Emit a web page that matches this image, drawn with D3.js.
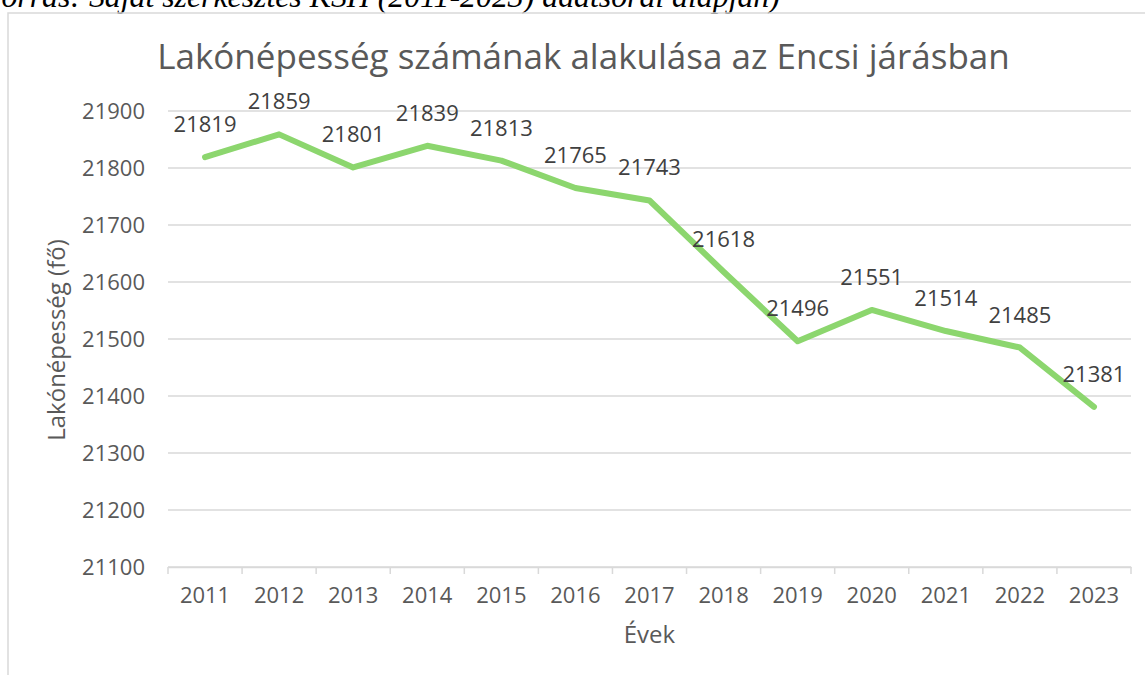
<!DOCTYPE html>
<html>
<head>
<meta charset="utf-8">
<script src="https://cdn.jsdelivr.net/npm/d3@7"></script>
<style>
  body { margin: 0; background: #fff; }
  svg { display: block; }
</style>
</head>
<body>
<div class="chart"></div>
<script>
const years = ["2011","2012","2013","2014","2015","2016","2017","2018","2019","2020","2021","2022","2023"]
const population = [21819, 21859, 21801, 21839, 21813, 21765, 21743, 21618, 21496, 21551, 21514, 21485, 21381]
const yTicks = [21100, 21200, 21300, 21400, 21500, 21600, 21700, 21800, 21900]

const W = 1145, H = 675
const margin = ({top: 111, right: 14, bottom: 108, left: 168})
const width = W - margin.left - margin.right
const height = H - margin.top - margin.bottom

const svg = d3.select(".chart").append("svg")
    .attr("width", W)
    .attr("height", H)

// caption above the chart, cut off at the top
svg.append("text")
    .attr("x", -18)
    .attr("y", 7)
    .attr("font-family", "Liberation Serif, Times New Roman, serif")
    .attr("font-style", "italic")
    .attr("font-size", 31.8)
    .attr("fill", "#000")
    .text("Forrás: Saját szerkesztés KSH (2011-2023) adatsorai alapján)")

// chart frame
svg.append("rect")
    .attr("x", 8).attr("y", 13)
    .attr("width", W + 20).attr("height", H + 20)
    .attr("fill", "none")
    .attr("stroke", "#d9d9d9")
    .attr("stroke-width", 1.5)

const g = svg.append("g")
    .attr("transform", `translate(${margin.left},${margin.top})`)

const x = d3.scaleBand()
    .domain(years)
    .range([0, width])

const y = d3.scaleLinear()
    .domain([21100, 21900])
    .range([height, 0])

const font = "'Open Sans', 'Noto Sans', sans-serif"

// gridlines
g.append("g")
    .selectAll("line")
    .data(yTicks)
    .join("line")
        .attr("x1", 0).attr("x2", width)
        .attr("y1", d => y(d)).attr("y2", d => y(d))
        .attr("stroke", "#d9d9d9")
        .attr("stroke-width", 1.5)

// y axis labels
const yAxis = g.append("g")
    .call(d3.axisLeft(y).tickValues(yTicks).tickSize(0).tickPadding(23).tickFormat(d3.format("d")))
yAxis.select(".domain").remove()
yAxis.selectAll("text")
    .attr("font-family", font)
    .attr("font-size", 22)
    .attr("fill", "#595959")

// x axis with ticks at band boundaries
const xAxis = g.append("g")
    .attr("transform", `translate(0,${height})`)
    .call(d3.axisBottom(x).tickSize(0).tickPadding(20))
xAxis.select(".domain")
    .attr("stroke", "#d9d9d9")
    .attr("stroke-width", 1.5)
xAxis.selectAll("text")
    .attr("font-family", font)
    .attr("font-size", 22)
    .attr("fill", "#595959")

xAxis.append("g")
    .selectAll("line")
    .data(years.concat(["end"]))
    .join("line")
        .attr("x1", (d, i) => i < years.length ? x(d) : width)
        .attr("x2", (d, i) => i < years.length ? x(d) : width)
        .attr("y1", 0).attr("y2", 7)
        .attr("stroke", "#d9d9d9")
        .attr("stroke-width", 1.5)

// line
const line = d3.line()
    .x((d, i) => x(years[i]) + x.bandwidth() / 2)
    .y(d => y(d))

g.append("path")
    .datum(population)
    .attr("d", line)
    .attr("fill", "none")
    .attr("stroke", "#8cd66e")
    .attr("stroke-width", 6)
    .attr("stroke-linejoin", "round")
    .attr("stroke-linecap", "round")

// data labels
g.append("g")
    .selectAll("text")
    .data(population)
    .join("text")
        .attr("x", (d, i) => x(years[i]) + x.bandwidth() / 2)
        .attr("y", d => y(d) - 25)
        .attr("text-anchor", "middle")
        .attr("font-family", font)
        .attr("font-size", 22)
        .attr("fill", "#404040")
        .text(d => d)

// title
svg.append("text")
    .attr("x", 583.5)
    .attr("y", 69)
    .attr("text-anchor", "middle")
    .attr("font-family", font)
    .attr("font-size", 35)
    .attr("fill", "#595959")
    .text("Lakónépesség számának alakulása az Encsi járásban")

// axis titles
svg.append("text")
    .attr("x", margin.left + width / 2)
    .attr("y", 643)
    .attr("text-anchor", "middle")
    .attr("font-family", font)
    .attr("font-size", 24)
    .attr("fill", "#595959")
    .text("Évek")

svg.append("text")
    .attr("transform", `translate(65,340) rotate(-90)`)
    .attr("text-anchor", "middle")
    .attr("font-family", font)
    .attr("font-size", 24)
    .attr("fill", "#595959")
    .text("Lakónépesség (fő)")
</script>
</body>
</html>
